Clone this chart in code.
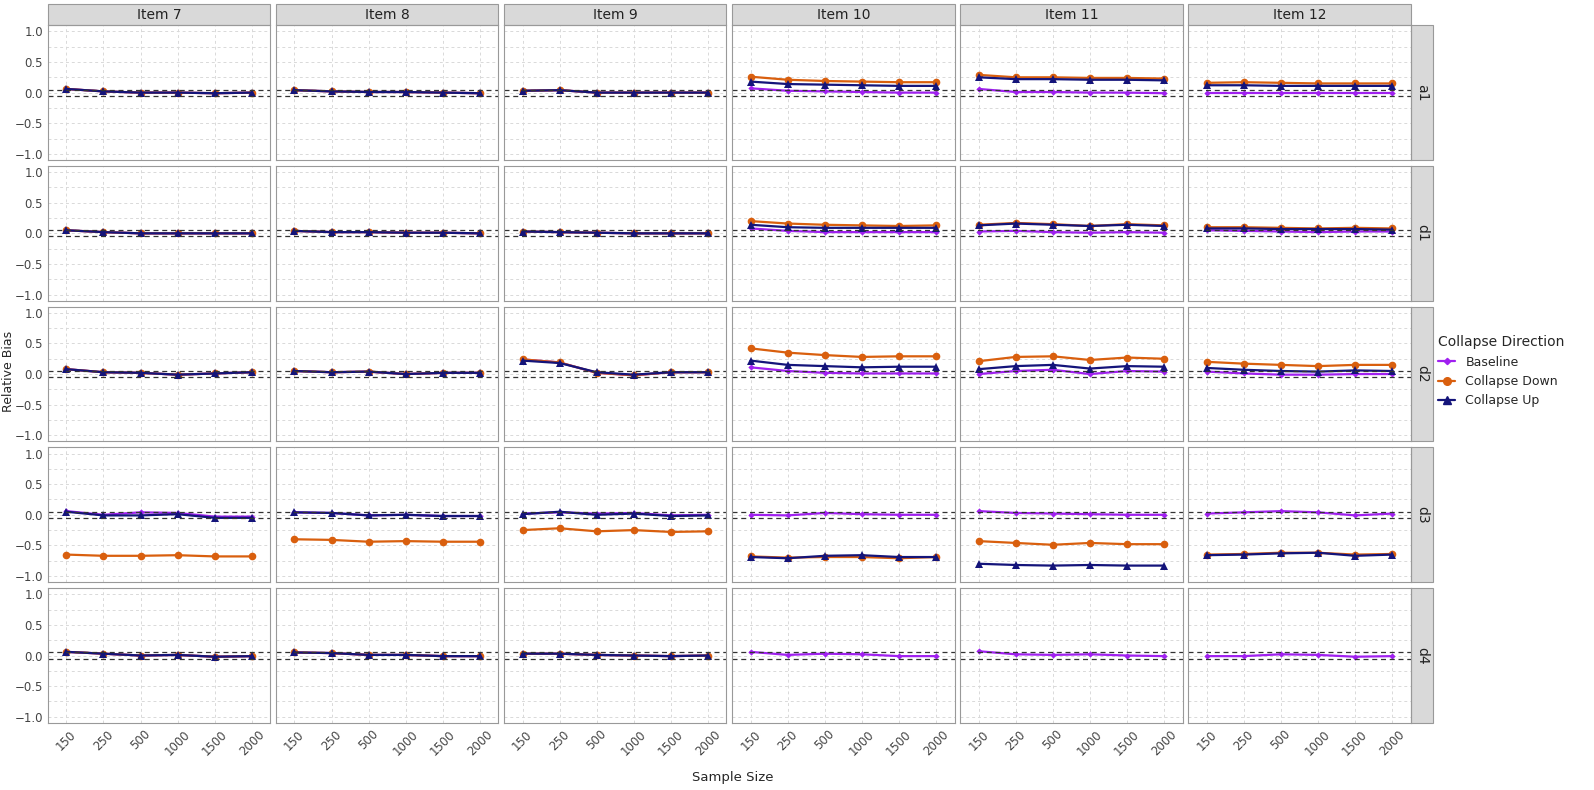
import numpy as np, pandas as pd, seaborn as sns, matplotlib
matplotlib.use("Agg")
import matplotlib.pyplot as plt
from matplotlib.patches import Rectangle

sizes = ["150", "250", "500", "1000", "1500", "2000"]
items = ["Item 7", "Item 8", "Item 9", "Item 10", "Item 11", "Item 12"]
params = ["a1", "d1", "d2", "d3", "d4"]
series = ["Baseline", "Collapse Down", "Collapse Up"]

baseline = {
 "Item 7": {"a1":[0.06,0.02,0.0,0.0,-0.01,0.0],"d1":[0.05,0.02,0.0,0.0,0.0,0.0],"d2":[0.08,0.03,0.02,-0.01,0.01,0.03],"d3":[0.06,0.0,0.04,0.03,-0.03,-0.03],"d4":[0.06,0.03,0.0,0.01,-0.02,-0.01]},
 "Item 8": {"a1":[0.04,0.02,0.01,0.01,0.0,-0.01],"d1":[0.04,0.02,0.02,0.01,0.01,0.0],"d2":[0.05,0.03,0.04,0.0,0.02,0.02],"d3":[0.04,0.03,-0.01,0.0,-0.02,-0.02],"d4":[0.05,0.04,0.01,0.01,-0.01,-0.01]},
 "Item 9": {"a1":[0.03,0.04,0.0,0.0,0.0,0.0],"d1":[0.03,0.02,0.01,0.0,0.0,0.0],"d2":[0.24,0.19,0.02,-0.02,0.03,0.03],"d3":[0.02,0.04,0.02,0.03,-0.01,0.0],"d4":[0.03,0.03,0.01,0.0,-0.01,0.0]},
 "Item 10": {"a1":[0.07,0.03,0.02,0.01,0.0,0.0],"d1":[0.08,0.04,0.02,0.02,0.02,0.02],"d2":[0.11,0.05,0.02,0.01,0.01,0.01],"d3":[0.0,-0.01,0.03,0.01,0.0,0.0],"d4":[0.06,0.01,0.03,0.02,-0.01,-0.01]},
 "Item 11": {"a1":[0.06,0.01,0.01,0.0,0.0,-0.01],"d1":[0.03,0.04,0.02,0.01,0.02,0.01],"d2":[0.0,0.05,0.07,0.0,0.05,0.04],"d3":[0.06,0.03,0.02,0.01,0.0,0.0],"d4":[0.07,0.02,0.01,0.02,0.0,-0.01]},
 "Item 12": {"a1":[0.0,0.0,0.0,0.0,0.0,0.0],"d1":[0.05,0.04,0.03,0.02,0.03,0.03],"d2":[0.04,0.01,-0.01,-0.01,0.0,0.0],"d3":[0.02,0.04,0.06,0.04,-0.01,0.02],"d4":[-0.01,-0.01,0.02,0.01,-0.02,-0.01]},
}
collapse_down = {
 "Item 7": {"a1":[0.06,0.02,0.0,0.0,-0.01,0.0],"d1":[0.05,0.02,0.0,0.0,0.0,0.0],"d2":[0.08,0.03,0.02,-0.01,0.01,0.03],"d3":[-0.65,-0.67,-0.67,-0.66,-0.68,-0.68],"d4":[0.06,0.03,0.0,0.01,-0.02,-0.01]},
 "Item 8": {"a1":[0.04,0.02,0.01,0.01,0.0,-0.01],"d1":[0.04,0.02,0.02,0.01,0.01,0.0],"d2":[0.05,0.03,0.04,0.0,0.02,0.02],"d3":[-0.40,-0.41,-0.44,-0.43,-0.44,-0.44],"d4":[0.05,0.04,0.01,0.01,-0.01,-0.01]},
 "Item 9": {"a1":[0.03,0.04,0.0,0.0,0.0,0.0],"d1":[0.03,0.02,0.01,0.0,0.0,0.0],"d2":[0.24,0.19,0.02,-0.02,0.03,0.03],"d3":[-0.25,-0.22,-0.27,-0.25,-0.28,-0.27],"d4":[0.03,0.03,0.01,0.0,-0.01,0.0]},
 "Item 10": {"a1":[0.26,0.21,0.19,0.18,0.17,0.17],"d1":[0.20,0.16,0.14,0.13,0.12,0.13],"d2":[0.42,0.35,0.31,0.28,0.29,0.29],"d3":[-0.68,-0.70,-0.69,-0.69,-0.71,-0.69],"d4":None},
 "Item 11": {"a1":[0.29,0.25,0.25,0.24,0.24,0.23],"d1":[0.14,0.17,0.15,0.12,0.15,0.13],"d2":[0.21,0.28,0.29,0.23,0.27,0.25],"d3":[-0.43,-0.46,-0.49,-0.46,-0.48,-0.48],"d4":None},
 "Item 12": {"a1":[0.16,0.17,0.16,0.15,0.15,0.15],"d1":[0.10,0.10,0.09,0.08,0.09,0.08],"d2":[0.20,0.17,0.15,0.13,0.15,0.15],"d3":[-0.65,-0.64,-0.62,-0.62,-0.65,-0.64],"d4":None},
}
collapse_up = {
 "Item 7": {"a1":[0.06,0.02,0.0,0.0,-0.01,0.0],"d1":[0.05,0.02,0.0,0.0,0.0,0.0],"d2":[0.08,0.03,0.02,-0.01,0.01,0.03],"d3":[0.05,-0.01,-0.01,0.01,-0.05,-0.05],"d4":[0.06,0.03,0.0,0.01,-0.02,-0.01]},
 "Item 8": {"a1":[0.04,0.02,0.01,0.01,0.0,-0.01],"d1":[0.04,0.02,0.02,0.01,0.01,0.0],"d2":[0.05,0.03,0.04,0.0,0.02,0.02],"d3":[0.04,0.03,-0.01,0.0,-0.02,-0.02],"d4":[0.05,0.04,0.01,0.01,-0.01,-0.01]},
 "Item 9": {"a1":[0.03,0.04,0.0,0.0,0.0,0.0],"d1":[0.03,0.02,0.01,0.0,0.0,0.0],"d2":[0.22,0.18,0.03,-0.01,0.03,0.03],"d3":[0.01,0.05,0.0,0.02,-0.02,-0.01],"d4":[0.03,0.03,0.01,0.0,-0.01,0.0]},
 "Item 10": {"a1":[0.18,0.14,0.13,0.12,0.11,0.11],"d1":[0.14,0.10,0.09,0.09,0.09,0.09],"d2":[0.22,0.15,0.13,0.11,0.12,0.12],"d3":[-0.69,-0.71,-0.67,-0.66,-0.69,-0.69],"d4":None},
 "Item 11": {"a1":[0.25,0.22,0.22,0.21,0.21,0.20],"d1":[0.13,0.16,0.14,0.12,0.14,0.12],"d2":[0.08,0.13,0.15,0.09,0.13,0.12],"d3":[-0.80,-0.82,-0.83,-0.82,-0.83,-0.83],"d4":None},
 "Item 12": {"a1":[0.12,0.12,0.11,0.11,0.11,0.11],"d1":[0.08,0.08,0.07,0.07,0.07,0.06],"d2":[0.10,0.07,0.05,0.04,0.06,0.05],"d3":[-0.66,-0.65,-0.63,-0.62,-0.67,-0.65],"d4":None},
}

rows = []
for s, src in zip(series, [baseline, collapse_down, collapse_up]):
    for it in items:
        for p in params:
            v = src[it][p]
            if v is None: continue
            for i, y in enumerate(v):
                rows.append(dict(series=s, item=it, param=p, x=i, size=sizes[i], bias=y))
df = pd.DataFrame(rows)

sns.set_theme(style="white")
plt.rcParams['font.family'] = ['DejaVu Sans']
palette = {"Baseline": "#A020F0", "Collapse Down": "#D95F0E", "Collapse Up": "#14147A"}
markers = {"Baseline": "D", "Collapse Down": "o", "Collapse Up": "^"}
msize = {"Baseline": 3.2, "Collapse Down": 5.5, "Collapse Up": 6}

fig, axes = plt.subplots(5, 6, figsize=(15.94, 7.9), dpi=100, sharex=True, sharey=True)
fig.subplots_adjust(left=0.03, right=0.885, top=0.968, bottom=0.085, wspace=0.025, hspace=0.045)
for r, p in enumerate(params):
    for c, it in enumerate(items):
        ax = axes[r, c]
        ax.set_facecolor("white")
        for s in series:
            d = df[(df.item == it) & (df.param == p) & (df.series == s)]
            if len(d) == 0: continue
            sns.lineplot(data=d, x="x", y="bias", ax=ax, color=palette[s], marker=markers[s],
                         markersize=msize[s], markeredgewidth=0, linewidth=1.6, legend=False)
        for h in (0.05, -0.05):
            ax.axhline(h, color="#333333", ls=(0, (4, 3)), lw=0.9)
        ax.set_ylim(-1.1, 1.1); ax.set_xlim(-0.5, 5.5)
        ax.set_yticks([-1.0, -0.5, 0.0, 0.5, 1.0])
        ax.set_yticks([-0.75, -0.25, 0.25, 0.75], minor=True)
        ax.set_xticks(range(6)); ax.set_xticklabels(sizes, rotation=45)
        ax.grid(True, which="both", color="#d9d9d9", ls=(0, (3, 3)), lw=0.7)
        ax.tick_params(labelsize=8.5, length=2, pad=1.5, colors="#444444")
        ax.set_xlabel(""); ax.set_ylabel("")
        for sp in ax.spines.values():
            sp.set_color("#999999"); sp.set_linewidth(0.8)
        if r == 0:
            ax.add_patch(Rectangle((0, 1.0), 1, 0.155, transform=ax.transAxes, clip_on=False,
                                   facecolor="#d9d9d9", edgecolor="#999999", lw=0.8))
            ax.text(0.5, 1.078, it, transform=ax.transAxes, ha="center", va="center", fontsize=10, color="#222222")
        if c == 5:
            ax.add_patch(Rectangle((1.0, 0), 0.1, 1, transform=ax.transAxes, clip_on=False,
                                   facecolor="#d9d9d9", edgecolor="#999999", lw=0.8))
            ax.text(1.05, 0.5, p, transform=ax.transAxes, ha="center", va="center", rotation=-90,
                    fontsize=10, color="#222222")

fig.text(0.46, 0.012, "Sample Size", ha="center", fontsize=9.5)
fig.text(0.001, 0.53, "Relative Bias", va="center", rotation=90, fontsize=9)

from matplotlib.lines import Line2D
handles = [Line2D([], [], color=palette[s], marker=markers[s], markersize=msize[s], lw=1.6) for s in series]
fig.legend(handles, series, title="Collapse Direction", loc="center left", bbox_to_anchor=(0.895, 0.53),
           frameon=False, fontsize=9, title_fontsize=10, handlelength=1.4, alignment="left")
fig.savefig("out.png", dpi=100)
